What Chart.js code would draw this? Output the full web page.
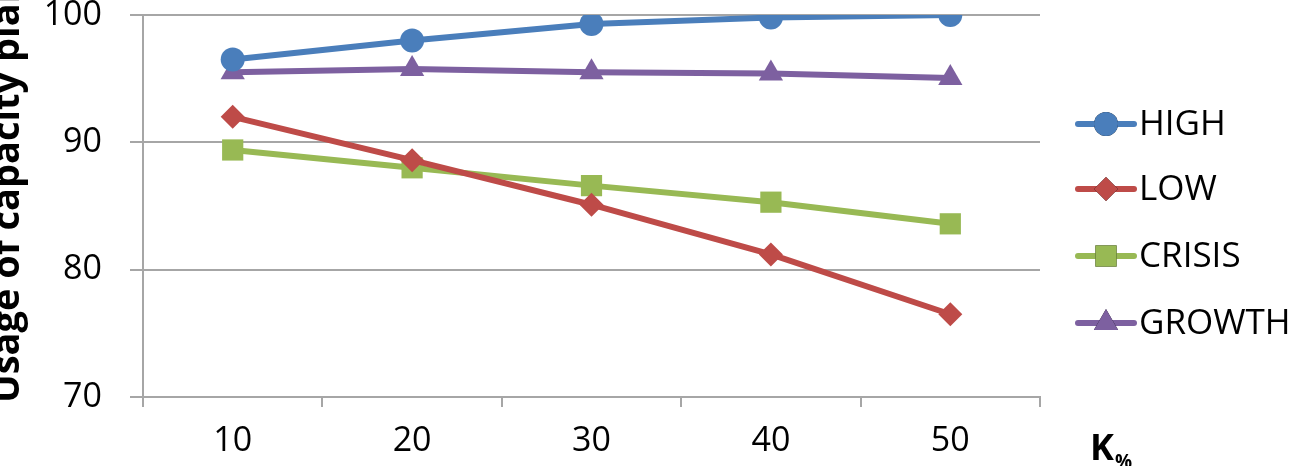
<!DOCTYPE html>
<html>
<head>
<meta charset="utf-8">
<script src="https://cdn.jsdelivr.net/npm/chart.js@4/dist/chart.umd.min.js"></script>
<style>
  html, body { margin: 0; padding: 0; background: #fff; }
  #wrap { width: 1297px; height: 466px; }
</style>
</head>
<body>
<div id="wrap"><canvas id="c" width="1297" height="466"></canvas></div>
<script>
const categories = ["10", "20", "30", "40", "50"];
const highVals = [96.5, 98.0, 99.3, 99.8, 100.0];
const lowVals = [92.0, 88.6, 85.1, 81.2, 76.5];
const crisisVals = [89.4, 88.0, 86.6, 85.3, 83.6];
const growthVals = [95.5, 95.75, 95.5, 95.4, 95.05];
const yTicks = [70, 80, 90, 100];

const FONT = "'Open Sans', 'Noto Sans', sans-serif";
const GRID = "#a6a6a6";

function series(label, data, color, pointStyle, radius) {
  return {
    label, data,
    borderColor: color,
    backgroundColor: color,
    borderWidth: 6,
    pointStyle,
    pointRadius: radius,
    pointHoverRadius: radius,
    pointBorderWidth: 0,
    tension: 0,
  };
}

// legend and axis captions drawn by hand, office style
const extras = {
  id: "extras",
  afterDraw(chart) {
    const ctx = chart.ctx;
    const x0 = 1078, x1 = 1134, tx = 1139;
    const ys = [124, 189, 256, 323];
    chart.data.datasets.forEach((ds, i) => {
      const y = ys[i];
      ctx.save();
      ctx.strokeStyle = ds.borderColor;
      ctx.lineWidth = 6;
      ctx.lineCap = "round";
      ctx.beginPath();
      ctx.moveTo(x0, y);
      ctx.lineTo(x1, y);
      ctx.stroke();
      Chart.helpers.drawPoint(ctx, {
        pointStyle: ds.pointStyle,
        radius: ds.pointRadius,
        rotation: 0,
        borderWidth: 0,
      }, (x0 + x1) / 2, y);
      ctx.fillStyle = ds.borderColor;
      ctx.fill();
      ctx.fillStyle = "#000";
      ctx.font = "35px " + FONT;
      ctx.textBaseline = "middle";
      ctx.textAlign = "left";
      ctx.fillText(ds.label, tx, y + 1);
      ctx.restore();
    });

    ctx.save();
    ctx.fillStyle = "#000";
    // K% under the right end of the x axis
    ctx.font = "bold 36px " + FONT;
    ctx.textBaseline = "alphabetic";
    ctx.fillText("K", 1090, 460);
    ctx.font = "bold 19px " + FONT;
    ctx.fillText("%", 1115, 468);
    // y title, rotated and partly cut by the left edge like the original
    ctx.translate(19, 403);
    ctx.rotate(-Math.PI / 2);
    ctx.font = "bold 38px " + FONT;
    ctx.textAlign = "left";
    ctx.fillText("Usage of capacity plan", 0, 0);
    ctx.restore();
  },
};

new Chart(document.getElementById("c"), {
  type: "line",
  data: {
    labels: categories,
    datasets: [
      series("HIGH", highVals, "#4a7ebb", "circle", 12),
      series("LOW", lowVals, "#be4b48", "rectRot", 12),
      series("CRISIS", crisisVals, "#98b954", "rect", 15),
      series("GROWTH", growthVals, "#7d60a0", "triangle", 14),
    ],
  },
  options: {
    responsive: false,
    animation: false,
    layout: { padding: { top: 15, right: 257, bottom: 0, left: 0 } },
    plugins: { legend: { display: false }, tooltip: { enabled: false } },
    scales: {
      x: {
        offset: true,
        afterFit(s) {
          s.height = 69;
          s.paddingLeft = 0; s.paddingRight = 0;
        },
        border: { color: GRID, width: 2 },
        grid: { offset: true, drawOnChartArea: false, drawTicks: true, tickLength: 10, color: GRID, lineWidth: 2 },
        ticks: { color: "#000", font: { family: FONT, size: 34 }, padding: 14 },
      },
      y: {
        min: 70, max: 100,
        afterFit(s) {
          s.width = 143;
          s.paddingTop = 0; s.paddingBottom = 0;
        },
        afterBuildTicks(s) { s.ticks = yTicks.map((v) => ({ value: v })); },
        border: { color: GRID, width: 2 },
        grid: { color: GRID, lineWidth: 2, tickLength: 13 },
        ticks: { color: "#000", font: { family: FONT, size: 34 }, padding: 28 },
      },
    },
  },
  plugins: [extras],
});
</script>
</body>
</html>
